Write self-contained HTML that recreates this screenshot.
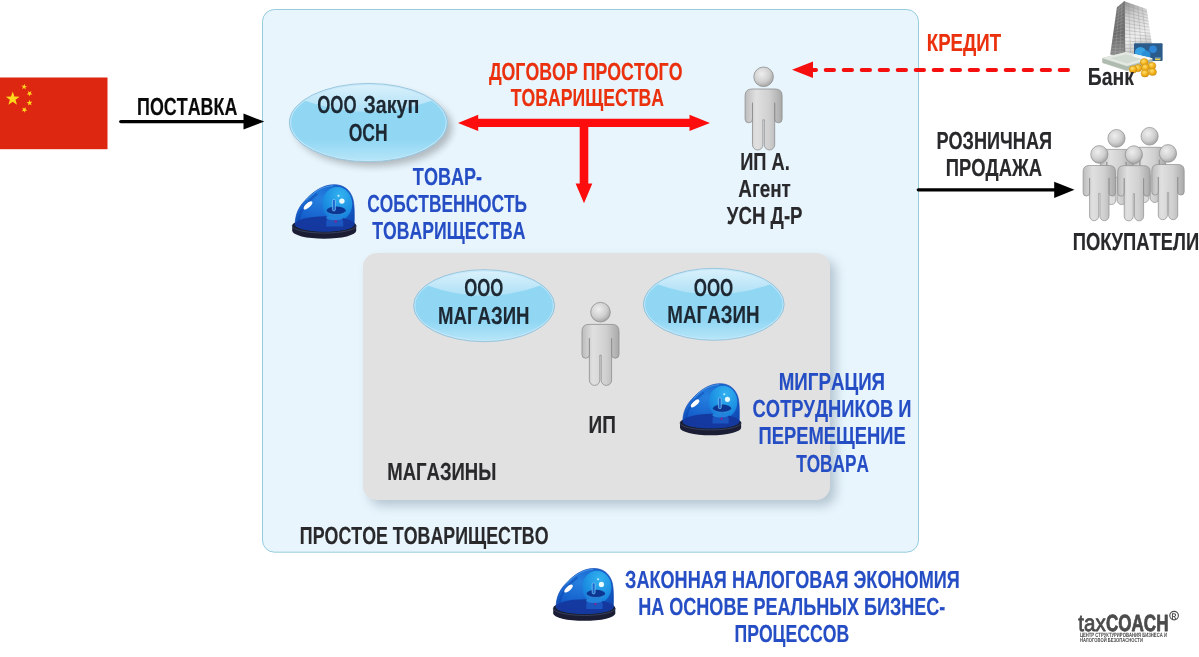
<!DOCTYPE html>
<html><head><meta charset="utf-8"><title>Diagram</title>
<style>
html,body{margin:0;padding:0;background:#fff;}
body{width:1199px;height:657px;overflow:hidden;}
svg{display:block;font-family:"Liberation Sans",sans-serif;}
text{white-space:pre;font-kerning:none;text-rendering:geometricPrecision;}
</style></head><body>
<svg width="1199" height="657" viewBox="0 0 1199 657">
<defs>
  <linearGradient id="gEl" x1="0" y1="0" x2="0" y2="1">
    <stop offset="0" stop-color="#90d7f4"/><stop offset="0.72" stop-color="#91d7f4"/><stop offset="1" stop-color="#b8e6f8"/>
  </linearGradient>
  <linearGradient id="gTop" x1="0" y1="0" x2="0" y2="1">
    <stop offset="0" stop-color="#dcf2fc"/><stop offset="1" stop-color="#aee0f6"/>
  </linearGradient>
  <filter id="shE" x="-20%" y="-20%" width="150%" height="160%">
    <feGaussianBlur in="SourceAlpha" stdDeviation="3.6"/><feOffset dx="4.5" dy="4.5" result="b"/>
    <feComponentTransfer><feFuncA type="linear" slope="0.24"/></feComponentTransfer>
    <feMerge><feMergeNode/><feMergeNode in="SourceGraphic"/></feMerge>
  </filter>
  <filter id="shB" x="-10%" y="-10%" width="130%" height="140%">
    <feGaussianBlur in="SourceAlpha" stdDeviation="5.5"/><feOffset dx="6" dy="6" result="b"/>
    <feFlood flood-color="#8397a6"/><feComposite in2="b" operator="in"/>
    <feComponentTransfer><feFuncA type="linear" slope="0.5"/></feComponentTransfer>
    <feMerge><feMergeNode/><feMergeNode in="SourceGraphic"/></feMerge>
  </filter>
  <linearGradient id="gBody" x1="0" y1="0" x2="1" y2="0">
    <stop offset="0" stop-color="#bcbcbc"/><stop offset="0.3" stop-color="#e0e0e0"/><stop offset="0.65" stop-color="#d0d0d0"/><stop offset="1" stop-color="#a9a9a9"/>
  </linearGradient>
  <radialGradient id="gHead" cx="0.4" cy="0.35" r="0.7">
    <stop offset="0" stop-color="#eeeeee"/><stop offset="0.6" stop-color="#cfcfcf"/><stop offset="1" stop-color="#a0a0a0"/>
  </radialGradient>
  <linearGradient id="gBL" x1="0" y1="0" x2="0" y2="1"><stop offset="0" stop-color="#7b7b7b"/><stop offset="0.6" stop-color="#6a6a6a"/><stop offset="1" stop-color="#8c8c8c"/></linearGradient>
  <linearGradient id="gBR" x1="0" y1="0" x2="0.25" y2="1"><stop offset="0" stop-color="#8f8f8f"/><stop offset="0.3" stop-color="#cfcfcf"/><stop offset="0.7" stop-color="#f0f0f0"/><stop offset="1" stop-color="#c4c4c4"/></linearGradient>
  <radialGradient id="gCoin" cx="0.4" cy="0.35" r="0.7"><stop offset="0" stop-color="#ffe070"/><stop offset="0.55" stop-color="#f2b21c"/><stop offset="1" stop-color="#d8930f"/></radialGradient>
  <g id="person">
    <circle cx="0" cy="10" r="9.8" fill="url(#gHead)" stroke="#8e8e8e" stroke-width="0.8"/>
    <path d="M-18.5 29 Q-18.5 22.2 -11.5 22.2 H11.5 Q18.5 22.2 18.5 29 V52.3 A3.7 3.7 0 0 1 11.1 52.3 V36 V78 A5.2 5.2 0 0 1 0.7 78 V53 H-0.7 V78 A5.2 5.2 0 0 1 -11.1 78 V36 V52.3 A3.7 3.7 0 0 1 -18.5 52.3 Z" fill="url(#gBody)" stroke="#8e8e8e" stroke-width="0.8" stroke-linejoin="round"/>
  </g>
  <radialGradient id="gDome" cx="0.42" cy="0.3" r="0.8">
    <stop offset="0" stop-color="#2680de"/><stop offset="0.55" stop-color="#1662ce"/><stop offset="1" stop-color="#0e43aa"/>
  </radialGradient>
  <radialGradient id="gLens" cx="0.6" cy="0.25" r="0.85">
    <stop offset="0" stop-color="#33b2f0"/><stop offset="0.6" stop-color="#1c90e2"/><stop offset="1" stop-color="#1672d6"/>
  </radialGradient>
  <g id="beacon">
    <path d="M0 41 A32 7 0 0 1 64 41 V46.4 A32 7.9 0 0 1 0 46.4 Z" fill="#1a1d33"/>
    <path d="M0 41.3 A32 7.4 0 0 0 64 41.3" fill="none" stroke="#3b4462" stroke-width="0.9"/>
    <path d="M3 40 C3 30 7 22 12.5 16.5 C20 8 30 0.3 42 0.3 C52 0.3 58 6 60.5 14 C62.3 20 62.2 30 62 40 A29.5 6.8 0 0 1 3 40 Z" fill="url(#gDome)" stroke="#0e46b4" stroke-width="0.7"/>
    <clipPath id="cDome"><path d="M3 40 C3 30 7 22 12.5 16.5 C20 8 30 0.3 42 0.3 C52 0.3 58 6 60.5 14 C62.3 20 62.2 30 62 40 A29.5 6.8 0 0 1 3 40 Z"/></clipPath>
    <g clip-path="url(#cDome)">
      <ellipse cx="45" cy="19.5" rx="15" ry="17" fill="url(#gLens)"/>
      <ellipse cx="32.5" cy="40.5" rx="30" ry="8.6" fill="#15369c" opacity="0.92"/>
      <path d="M34 38 C34 33.5 37 32 42.5 32 C48 32 51 33.5 51 38 V42 H34 Z" fill="#1a55c0"/>
      <ellipse cx="42.5" cy="33.2" rx="8.6" ry="2.6" fill="#2383dc"/>
      <ellipse cx="44" cy="26.3" rx="9.6" ry="4.1" fill="#0d3692"/>
      <path d="M35 27.5 A9.6 4.1 0 0 0 53 27.5" fill="none" stroke="#4cb4f2" stroke-width="0.7" opacity="0.8"/>
      <rect x="40.2" y="15" width="3" height="11.5" rx="1.4" fill="#1c6ad0" stroke="#9adcf9" stroke-width="0.6"/>
      <circle cx="43.5" cy="37" r="1.3" fill="#7a2a90"/>
      <path d="M6.5 37 C7 28 13 18.5 25 9.5" fill="none" stroke="#0c41aa" stroke-width="2.2" opacity="0.45"/>
      <path d="M14 15.8 C21 8 30 1.6 41 1.3" fill="none" stroke="#63b1f5" stroke-width="0.9" opacity="0.7"/>
    </g>
    <ellipse cx="15.8" cy="21" rx="5.6" ry="2.3" fill="#ffffff" transform="rotate(-42 15.8 21)"/>
    <circle cx="49.7" cy="16.7" r="2.7" fill="#e8fbff"/>
    <circle cx="46.3" cy="11.4" r="1.1" fill="#bfeeff"/>
  </g>
</defs>

<!-- outer box -->
<rect x="262.5" y="9.5" width="656" height="542.7" rx="12" ry="12" fill="#e8f5fd" stroke="#84c3d6" stroke-width="0.85"/>

<!-- gray box -->
<g filter="url(#shB)"><rect x="363" y="253" width="467" height="247" rx="14" ry="14" fill="#e1e1e1"/></g>

<!-- flag -->
<rect x="0" y="77.5" width="107.5" height="71.7" fill="#dd2710"/>
<g fill="#ffd81e">
  <polygon points="12.70,91.60 14.42,96.54 19.64,96.64 15.48,99.80 16.99,104.81 12.70,101.82 8.41,104.81 9.92,99.80 5.76,96.64 10.98,96.54"/>
  <polygon points="22.06,89.05 22.98,87.03 21.40,85.46 23.61,85.71 24.61,83.73 25.05,85.90 27.25,86.24 25.32,87.33 25.68,89.53 24.04,88.03"/>
  <polygon points="26.65,94.44 28.42,93.11 27.79,90.98 29.61,92.26 31.43,91.00 30.78,93.12 32.54,94.47 30.32,94.51 29.58,96.60 28.87,94.50"/>
  <polygon points="26.58,102.19 28.79,101.96 29.35,99.81 30.24,101.84 32.46,101.70 30.81,103.19 31.62,105.25 29.70,104.14 27.99,105.55 28.46,103.38"/>
  <polygon points="22.13,107.69 24.16,108.58 25.71,106.99 25.48,109.20 27.48,110.18 25.31,110.65 24.99,112.84 23.88,110.92 21.69,111.30 23.17,109.65"/>
</g>

<!-- arrows -->
<g>
  <line x1="120.8" y1="121.6" x2="246" y2="121.6" stroke="#000" stroke-width="3.4" stroke-linecap="round"/>
  <polygon points="243.5,113.6 264.3,121.6 243.5,129.6" fill="#000"/>
  <line x1="918.3" y1="189.8" x2="1056" y2="189.8" stroke="#000" stroke-width="3.3" stroke-linecap="round"/>
  <polygon points="1054.2,181.7 1074.5,189.8 1054.2,197.9" fill="#000"/>
</g>
<g fill="#fd0d0d">
  <polygon points="458,122.9 478.2,114.8 478.2,118.7 689.5,118.7 689.5,114.8 710,122.9 689.5,131 689.5,127.1 588.3,127.1 588.3,183.6 592.3,183.6 584,203.2 575.6,183.6 579.7,183.6 579.7,127.1 478.2,127.1 478.2,131"/>
</g>
<g>
  <line x1="1068" y1="69.9" x2="806" y2="69.9" stroke="#f60f0f" stroke-width="4" stroke-dasharray="8.3 9.7" stroke-linecap="round"/>
  <polygon points="792,69.8 813,61.6 813,78" fill="#f60f0f"/>
</g>


<g filter="url(#shE)"><ellipse cx="368.4" cy="122.6" rx="79" ry="39.2" fill="url(#gEl)"/></g>
<path d="M303.6 100.2 A79 39.2 0 0 1 433.2 100.2 Q368.4 123.8 303.6 100.2 Z" fill="url(#gTop)"/>
<ellipse cx="368.4" cy="122.6" rx="77.9" ry="38.1" fill="none" stroke="#c4e8f9" stroke-width="1.3" opacity="0.85"/>
<ellipse cx="368.4" cy="122.6" rx="79" ry="39.2" fill="none" stroke="#85b8d2" stroke-width="0.7"/>


<g><ellipse cx="484.1" cy="305.7" rx="70.5" ry="36" fill="url(#gEl)"/></g>
<path d="M426.3 285.1 A70.5 36 0 0 1 541.9 285.1 Q484.1 306.8 426.3 285.1 Z" fill="url(#gTop)"/>
<ellipse cx="484.1" cy="305.7" rx="69.4" ry="34.9" fill="none" stroke="#c4e8f9" stroke-width="1.3" opacity="0.85"/>
<ellipse cx="484.1" cy="305.7" rx="70.5" ry="36" fill="none" stroke="#85b8d2" stroke-width="0.7"/>


<g><ellipse cx="713.8" cy="304.3" rx="70.4" ry="36" fill="url(#gEl)"/></g>
<path d="M656.1 283.7 A70.4 36 0 0 1 771.5 283.7 Q713.8 305.4 656.1 283.7 Z" fill="url(#gTop)"/>
<ellipse cx="713.8" cy="304.3" rx="69.30000000000001" ry="34.9" fill="none" stroke="#c4e8f9" stroke-width="1.3" opacity="0.85"/>
<ellipse cx="713.8" cy="304.3" rx="70.4" ry="36" fill="none" stroke="#85b8d2" stroke-width="0.7"/>


<use href="#person" transform="translate(763.6 66.8) scale(1.0 1.0)"/>
<use href="#person" transform="translate(600.5 302.2) scale(1.0 1.0)"/>

<!-- crowd -->
<use href="#person" transform="translate(1116.5 129.3) scale(0.875 0.905)"/>
<use href="#person" transform="translate(1149.6 127.2) scale(0.875 0.905)"/>
<use href="#person" transform="translate(1099.3 145.4) scale(0.875 0.905)"/>
<use href="#person" transform="translate(1168 144.4) scale(0.875 0.905)"/>
<use href="#person" transform="translate(1133.9 145.6) scale(0.875 0.905)"/>

<use href="#beacon" transform="translate(292.2 184.4) scale(1.0)"/>
<use href="#beacon" transform="translate(680 383.4) scale(0.955)"/>
<use href="#beacon" transform="translate(553.2 568.2) scale(0.97)"/>

<!-- bank -->
<g>
<polygon points="1116.9,7.3 1124.2,1.2 1124.8,55.5 1110.2,54.8" fill="url(#gBL)"/>
<polygon points="1124.2,1.2 1146.7,9.1 1153.4,54.5 1124.8,55.5" fill="url(#gBR)"/>
<path d="M1128.7 2.8 L1130.5 55.3 M1133.2 4.4 L1136.2 55.1 M1137.7 5.9 L1142.0 54.9 M1142.2 7.5 L1147.7 54.7 M1124.2 4.8 L1147.1 12.1 M1124.3 8.4 L1147.6 15.2 M1124.3 12.1 L1148.0 18.2 M1124.4 15.7 L1148.5 21.2 M1124.4 19.3 L1148.9 24.2 M1124.4 22.9 L1149.4 27.3 M1124.5 26.5 L1149.8 30.3 M1124.5 30.2 L1150.3 33.3 M1124.6 33.8 L1150.7 36.3 M1124.6 37.4 L1151.2 39.4 M1124.6 41.0 L1151.6 42.4 M1124.7 44.6 L1152.1 45.4 M1124.7 48.3 L1152.5 48.4 M1124.8 51.9 L1153.0 51.5" stroke="#8f8f8f" stroke-width="0.45" fill="none" opacity="0.75"/>
<path d="M1119.3 5.3 L1115.1 55.0 M1121.8 3.2 L1119.9 55.3 M1116.5 10.5 L1124.2 4.8 M1116.0 13.6 L1124.3 8.4 M1115.6 16.8 L1124.3 12.1 M1115.1 20.0 L1124.4 15.7 M1114.7 23.1 L1124.4 19.3 M1114.2 26.3 L1124.4 22.9 M1113.8 29.5 L1124.5 26.5 M1113.3 32.6 L1124.5 30.2 M1112.9 35.8 L1124.6 33.8 M1112.4 39.0 L1124.6 37.4 M1112.0 42.1 L1124.6 41.0 M1111.5 45.3 L1124.7 44.6 M1111.1 48.5 L1124.7 48.3 M1110.6 51.6 L1124.8 51.9" stroke="#c9c9c9" stroke-width="0.4" fill="none" opacity="0.55"/>
<path d="M1124.2 1.2 L1124.8 55.5" stroke="#5a5a5a" stroke-width="0.8"/>
<rect x="1134" y="43.2" width="28.6" height="17.7" rx="1" fill="#2b5b8b"/>
<clipPath id="cCard"><rect x="1134" y="43.2" width="28.6" height="17.7" rx="1"/></clipPath>
<circle cx="1140.5" cy="52.5" r="5.6" fill="#37a3e4" clip-path="url(#cCard)"/>
<circle cx="1146" cy="55" r="4.5" fill="#2b8fd8" clip-path="url(#cCard)"/>
<circle cx="1153" cy="49.3" r="3.8" fill="#2f86d6"/>
<rect x="1155" y="57.2" width="5.4" height="3" fill="#e9d04a"/><rect x="1155" y="57.2" width="5.4" height="1.3" fill="#3c78c8"/>
<polygon points="1102.3,58 1126,52 1152.5,58.4 1152.5,62.8 1127,71 1102.3,63" fill="#b9c4b9"/>
<polygon points="1102.3,58 1126,52 1152.5,58.4 1127,66" fill="#e4eae3"/>
<polygon points="1110,58.2 1126,54.2 1144,58.4 1127,63.4" fill="#d3dcd2"/>
<path d="M1102.3 59.6 L1127 67.6 L1152.5 60 M1102.3 61.3 L1127 69.3 L1152.5 61.5" stroke="#98a698" stroke-width="0.5" fill="none"/>
<polygon points="1134,54 1150,57.5 1152.5,58.4 1146,60.3 1133,56.5" fill="#f4f7f3"/>
<ellipse cx="1144.2" cy="62.2" rx="3.9" ry="3.6" fill="url(#gCoin)" stroke="#c98f12" stroke-width="0.5"/>
<ellipse cx="1152.0" cy="65.8" rx="3.9" ry="3.6" fill="url(#gCoin)" stroke="#c98f12" stroke-width="0.5"/>
<ellipse cx="1138.0" cy="68.2" rx="3.9" ry="3.6" fill="url(#gCoin)" stroke="#c98f12" stroke-width="0.5"/>
<ellipse cx="1133.1" cy="69.4" rx="3.9" ry="3.6" fill="url(#gCoin)" stroke="#c98f12" stroke-width="0.5"/>
<ellipse cx="1152.6" cy="72.0" rx="3.9" ry="3.6" fill="url(#gCoin)" stroke="#c98f12" stroke-width="0.5"/>
<ellipse cx="1145.5" cy="67.6" rx="3.9" ry="3.6" fill="url(#gCoin)" stroke="#c98f12" stroke-width="0.5"/>
<ellipse cx="1145.0" cy="73.4" rx="3.9" ry="3.6" fill="url(#gCoin)" stroke="#c98f12" stroke-width="0.5"/>
</g>

<g id="labels" opacity="0.999" stroke-linejoin="round">
<text transform="translate(137.05 115.00) scale(0.7277 1)" font-size="24.60" font-weight="bold" fill="#0a0a0a" stroke="#0a0a0a" stroke-width="0.15">ПОСТАВКА</text>
<text transform="translate(317.16 113.00) scale(0.6863 1)" font-size="24.60" font-weight="bold" fill="#1d2833" stroke="#1d2833" stroke-width="0.15">ООО</text>
<text transform="translate(363.51 113.00) scale(0.7993 1)" font-size="24.60" font-weight="bold" fill="#1d2833" stroke="#1d2833" stroke-width="0.15">Закуп</text>
<text transform="translate(348.63 141.00) scale(0.7134 1)" font-size="24.60" font-weight="bold" fill="#1d2833" stroke="#1d2833" stroke-width="0.15">ОСН</text>
<text transform="translate(488.90 80.00) scale(0.7221 1)" font-size="24.60" font-weight="bold" fill="#ea300d" stroke="#ea300d" stroke-width="0.15">ДОГОВОР ПРОСТОГО</text>
<text transform="translate(510.85 106.00) scale(0.7166 1)" font-size="24.60" font-weight="bold" fill="#ea300d" stroke="#ea300d" stroke-width="0.15">ТОВАРИЩЕСТВА</text>
<text transform="translate(740.14 170.00) scale(0.7436 1)" font-size="24.60" font-weight="bold" fill="#29292c" stroke="#29292c" stroke-width="0.15">ИП А.</text>
<text transform="translate(738.28 197.00) scale(0.7666 1)" font-size="24.60" font-weight="bold" fill="#29292c" stroke="#29292c" stroke-width="0.15">Агент</text>
<text transform="translate(726.84 224.00) scale(0.7590 1)" font-size="24.60" font-weight="bold" fill="#29292c" stroke="#29292c" stroke-width="0.15">УСН Д-Р</text>
<text transform="translate(926.80 51.00) scale(0.7581 1)" font-size="24.60" font-weight="bold" fill="#ea300d" stroke="#ea300d" stroke-width="0.15">КРЕДИТ</text>
<text transform="translate(1087.75 85.00) scale(0.7890 1)" font-size="24.60" font-weight="bold" fill="#29292c" stroke="#29292c" stroke-width="0.15">Банк</text>
<text transform="translate(936.44 149.00) scale(0.7369 1)" font-size="24.60" font-weight="bold" fill="#29292c" stroke="#29292c" stroke-width="0.15">РОЗНИЧНАЯ</text>
<text transform="translate(945.72 176.00) scale(0.7495 1)" font-size="24.60" font-weight="bold" fill="#29292c" stroke="#29292c" stroke-width="0.15">ПРОДАЖА</text>
<text transform="translate(1072.82 250.00) scale(0.7479 1)" font-size="24.60" font-weight="bold" fill="#29292c" stroke="#29292c" stroke-width="0.15">ПОКУПАТЕЛИ</text>
<text transform="translate(412.85 185.00) scale(0.7341 1)" font-size="24.60" font-weight="bold" fill="#254dc4" stroke="#254dc4" stroke-width="0.15">ТОВАР-</text>
<text transform="translate(367.34 212.00) scale(0.7046 1)" font-size="24.60" font-weight="bold" fill="#254dc4" stroke="#254dc4" stroke-width="0.15">СОБСТВЕННОСТЬ</text>
<text transform="translate(372.35 239.00) scale(0.7171 1)" font-size="24.60" font-weight="bold" fill="#254dc4" stroke="#254dc4" stroke-width="0.15">ТОВАРИЩЕСТВА</text>
<text transform="translate(464.16 296.00) scale(0.6827 1)" font-size="24.60" font-weight="bold" fill="#1d2833" stroke="#1d2833" stroke-width="0.15">ООО</text>
<text transform="translate(438.01 324.00) scale(0.7573 1)" font-size="24.60" font-weight="bold" fill="#1d2833" stroke="#1d2833" stroke-width="0.15">МАГАЗИН</text>
<text transform="translate(693.65 296.00) scale(0.6917 1)" font-size="24.60" font-weight="bold" fill="#1d2833" stroke="#1d2833" stroke-width="0.15">ООО</text>
<text transform="translate(667.30 323.00) scale(0.7632 1)" font-size="24.60" font-weight="bold" fill="#1d2833" stroke="#1d2833" stroke-width="0.15">МАГАЗИН</text>
<text transform="translate(588.59 433.00) scale(0.7728 1)" font-size="24.60" font-weight="bold" fill="#29292c" stroke="#29292c" stroke-width="0.15">ИП</text>
<text transform="translate(387.31 480.00) scale(0.7527 1)" font-size="24.60" font-weight="bold" fill="#29292c" stroke="#29292c" stroke-width="0.15">МАГАЗИНЫ</text>
<text transform="translate(299.86 544.00) scale(0.7245 1)" font-size="24.60" font-weight="bold" fill="#29292c" stroke="#29292c" stroke-width="0.15">ПРОСТОЕ ТОВАРИЩЕСТВО</text>
<text transform="translate(778.70 390.00) scale(0.7621 1)" font-size="24.60" font-weight="bold" fill="#254dc4" stroke="#254dc4" stroke-width="0.15">МИГРАЦИЯ</text>
<text transform="translate(752.60 417.00) scale(0.7462 1)" font-size="24.60" font-weight="bold" fill="#254dc4" stroke="#254dc4" stroke-width="0.15">СОТРУДНИКОВ И</text>
<text transform="translate(758.52 444.00) scale(0.7469 1)" font-size="24.60" font-weight="bold" fill="#254dc4" stroke="#254dc4" stroke-width="0.15">ПЕРЕМЕЩЕНИЕ</text>
<text transform="translate(796.16 472.00) scale(0.7004 1)" font-size="24.60" font-weight="bold" fill="#254dc4" stroke="#254dc4" stroke-width="0.15">ТОВАРА</text>
<text transform="translate(625.05 588.00) scale(0.7365 1)" font-size="24.60" font-weight="bold" fill="#254dc4" stroke="#254dc4" stroke-width="0.15">ЗАКОННАЯ НАЛОГОВАЯ ЭКОНОМИЯ</text>
<text transform="translate(638.14 615.00) scale(0.7340 1)" font-size="24.60" font-weight="bold" fill="#254dc4" stroke="#254dc4" stroke-width="0.15">НА ОСНОВЕ РЕАЛЬНЫХ БИЗНЕС-</text>
<text transform="translate(734.47 642.00) scale(0.7166 1)" font-size="24.60" font-weight="bold" fill="#254dc4" stroke="#254dc4" stroke-width="0.15">ПРОЦЕССОВ</text>
<text transform="translate(1078.37 631.20) scale(0.8806 1)" font-size="23.30" font-weight="normal" fill="#4b4b4b" stroke="#4b4b4b" stroke-width="0.80">tax</text>
<text transform="translate(1105.88 631.20) scale(0.7327 1)" font-size="23.30" font-weight="bold" fill="#4b4b4b" stroke="#4b4b4b" stroke-width="0.80">COACH</text>
<text transform="translate(1079.92 637.10) scale(0.6776 1)" font-size="6.20" font-weight="bold" fill="#4b4b4b">ЦЕНТР СТРУКТУРИРОВАНИЯ БИЗНЕСА И</text>
<text transform="translate(1079.92 642.10) scale(0.7108 1)" font-size="5.80" font-weight="bold" fill="#4b4b4b">НАЛОГОВОЙ БЕЗОПАСНОСТИ</text>
<text transform="translate(1171.55 618.50) scale(0.8261 1)" font-size="8.20" font-weight="bold" fill="#4b4b4b">R</text>
</g>
<circle cx="1174.1" cy="615.6" r="4.3" fill="none" stroke="#4b4b4b" stroke-width="1.15"/>
</svg>
</body></html>
